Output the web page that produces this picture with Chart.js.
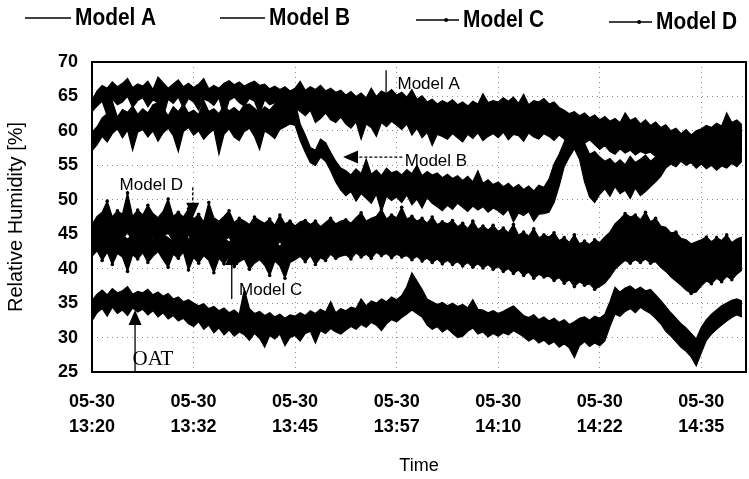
<!DOCTYPE html>
<html>
<head>
<meta charset="utf-8">
<script src="https://cdn.jsdelivr.net/npm/chart.js@4.4.1/dist/chart.umd.min.js"></script>
<style>
    html, body { margin: 0; padding: 0; background: #fff; }
</style>
</head>
<body>
<canvas id="rh-chart" width="749" height="479"></canvas>
<script>
/**
 * data: upper and lower edge of each trace,
 * one reading every 0.625 min starting at 13:20
 */
const sampleStep = 0.625;

const modelAHigh = [
    64.5, 65.8, 66.6, 66.2, 67.1, 66.4, 66.9, 67.6, 66.3, 66.8,
    66.5, 67.2, 66.0, 67.8, 67.0, 66.2, 66.8, 67.4, 66.4, 66.9,
    66.3, 66.8, 67.6, 66.1, 66.6, 66.2, 66.9, 67.3, 66.7, 67.1,
    66.5, 66.9, 67.2, 66.6, 66.8, 66.1, 66.5, 66.0, 66.4, 65.8,
    66.2, 67.2, 65.9, 66.4, 66.0, 66.6, 65.8, 66.2, 65.6, 65.9,
    65.2, 65.7, 65.0, 65.5, 64.8, 66.2, 65.0, 65.8, 65.4, 66.0,
    65.2, 65.6, 64.9, 66.0, 64.6, 65.1, 64.2, 64.6, 63.9, 64.4,
    64.0, 64.5, 63.8, 64.2, 63.6, 64.3, 63.9, 65.4, 64.1, 64.4,
    64.2, 64.8, 64.3, 64.9, 64.0, 65.3, 63.8, 64.4, 64.2, 64.7,
    63.9, 64.2, 63.4, 63.0, 62.5, 62.8, 62.2, 62.6, 61.9, 62.3,
    61.6, 62.1, 61.4, 61.8, 61.2, 62.6, 61.5, 61.9, 61.0, 61.6,
    60.8, 61.3, 60.5, 60.9, 60.0, 60.4, 59.6, 60.2, 59.4, 60.0,
    60.3, 60.8, 60.5, 61.1, 60.7, 62.6, 61.2, 61.6, 60.9
];
const modelALow = [
    62.8, 63.6, 64.3, 62.2, 64.6, 63.8, 64.2, 65.0, 63.4, 64.4,
    64.8, 63.5, 64.5, 64.1, 61.9, 64.6, 64.0, 64.9, 63.3, 64.7,
    64.2, 63.0, 64.6, 64.3, 63.7, 64.8, 62.0, 64.4, 64.9, 64.1,
    63.6, 64.7, 64.3, 62.4, 64.5, 63.8, 64.1, 63.0, 63.6, 63.2,
    63.4, 62.8, 62.2, 63.0, 61.2, 61.8, 62.6, 61.6, 61.2, 62.0,
    61.0, 60.4, 61.3, 58.8, 61.0, 60.5, 59.2, 61.2, 60.6, 61.4,
    60.8, 60.2, 61.0, 59.4, 60.4, 59.0, 59.8, 57.9, 59.5, 59.2,
    58.8, 59.6, 59.0, 58.4, 59.5, 58.9, 59.7, 58.6, 59.2, 59.6,
    59.0, 59.8, 58.7, 59.5, 59.3, 58.5, 59.7, 59.1, 58.8, 59.6,
    59.2, 58.6, 59.4, 58.8, 57.6, 59.0, 58.5, 58.2, 58.7, 58.0,
    57.3, 57.9, 57.0, 56.6, 57.4, 56.8, 57.2, 56.5, 57.0, 56.7,
    56.9, 56.3, 57.1, 56.6, 56.0, 56.8, 56.2, 56.9, 56.4, 56.0,
    56.6, 55.8, 56.9, 56.2, 55.6, 56.8, 56.1, 56.7, 57.4
];

const modelBHigh = [
    59.8, 60.6, 61.9, 62.5, 64.3, 62.0, 63.1, 62.7, 63.6, 62.4,
    63.2, 62.6, 63.8, 64.1, 63.3, 62.2, 63.5, 62.8, 63.9, 62.6,
    63.0, 62.4, 64.4, 62.8, 63.2, 62.5, 63.7, 62.9, 63.4, 62.7,
    63.8, 63.9, 63.3, 62.6, 63.5, 63.0, 63.9, 63.2, 64.0, 64.4,
    64.2, 61.0, 59.4, 57.6, 57.2, 58.8, 58.3, 56.9, 55.6, 54.6,
    54.2, 53.6, 54.5, 53.8, 55.9, 53.7, 54.3, 53.5, 54.6, 53.9,
    54.2, 53.6, 54.4, 53.8, 55.0, 53.5, 54.1, 53.6, 53.9, 53.2,
    53.7, 53.1, 53.5, 52.8, 53.4, 52.6, 54.2, 52.4, 52.9, 52.2,
    52.6, 51.9, 52.4, 51.7, 52.2, 51.5, 52.0, 51.3, 52.1, 51.8,
    53.0, 55.2, 56.6, 58.4, 59.6, 61.4, 62.1, 58.2, 56.6, 57.0,
    56.2, 55.6, 56.0, 55.2, 55.8, 55.1, 56.3, 55.4, 55.9, 56.5,
    55.6, 56.2, 57.0, 57.8, 58.6, 59.2, 59.0, 59.6, 59.3, 59.8,
    59.5, 60.1, 59.6, 59.9, 59.3, 60.2, 59.8, 60.4, 59.9
];
const modelBLow = [
    57.1, 58.0, 59.2, 58.4, 59.6, 60.3, 59.0, 60.1, 57.2, 59.8,
    60.2, 59.1, 60.0, 58.5, 59.7, 60.4, 59.3, 57.0, 59.9, 60.5,
    59.4, 60.0, 58.8, 59.6, 60.2, 56.6, 59.5, 60.3, 59.1, 58.6,
    59.9, 60.4, 59.2, 57.3, 60.0, 59.5, 58.9, 60.2, 60.6, 61.0,
    60.8, 58.6, 56.9, 55.4, 55.0, 56.2, 55.6, 54.2, 52.6, 51.4,
    50.6, 51.2, 49.8, 50.9, 50.2, 49.5, 50.8, 48.3, 50.5, 49.9,
    50.4, 49.6, 50.7, 49.3, 50.1, 48.8, 50.3, 49.5, 49.0, 48.4,
    49.2, 48.6, 49.5, 48.9, 48.3, 49.1, 48.5, 49.0, 48.2, 48.8,
    48.4, 47.8, 48.6, 46.8, 48.1, 47.7, 48.3, 46.9, 47.9, 48.0,
    48.2, 49.6, 52.0, 54.8, 56.2, 57.4, 55.9, 52.6, 50.4, 49.6,
    50.8, 51.6, 50.5, 51.9, 50.9, 51.4, 50.2, 51.7, 50.6, 51.2,
    51.9, 52.6, 53.4, 54.6, 55.2, 54.8, 55.6, 55.0, 55.4, 54.6,
    55.2, 54.5, 55.0, 54.3, 54.9, 54.6, 55.3, 54.8, 55.6
];

const modelCHigh = [
    45.4, 45.0, 44.6, 45.2, 44.4, 45.0, 44.8, 44.3, 44.9, 45.3,
    44.6, 45.1, 44.2, 44.8, 45.0, 44.5, 43.9, 44.7, 45.0, 44.4,
    44.1, 44.6, 43.8, 44.4, 44.0, 43.6, 44.3, 43.9, 44.2, 43.7,
    44.0, 43.5, 44.1, 43.8, 43.4, 44.0, 43.6, 43.3, 43.9, 44.2,
    44.4, 44.9, 44.5, 45.0, 44.6, 45.1, 44.7, 45.2, 44.8, 45.0,
    45.1, 45.4, 44.9, 45.3, 45.0, 45.6, 45.2, 45.4, 45.0, 45.5,
    45.2, 45.0, 44.8, 45.1, 44.6, 44.9, 44.5, 44.7, 44.3, 44.6,
    44.2, 44.5, 44.0, 44.3, 43.8, 44.1, 43.7, 43.9, 43.5, 43.8,
    43.4, 43.6, 43.1, 43.4, 42.9, 43.2, 42.6, 42.9, 42.3, 42.6,
    42.1, 42.4, 41.9, 42.2, 41.6, 41.9, 41.3, 41.6, 41.1, 41.4,
    41.2, 41.8, 42.6, 43.4, 44.0, 44.5, 44.2, 44.6, 44.3, 44.7,
    44.1, 44.4, 43.6, 43.2, 42.5, 42.0, 41.4, 41.0, 40.6, 40.9,
    41.2, 41.6, 41.4, 41.9, 41.6, 42.1, 41.8, 42.3, 42.6
];
const modelCLow = [
    41.8, 42.6, 41.2, 42.4, 40.6, 42.2, 41.7, 39.6, 42.0, 41.4,
    42.3, 40.9, 41.8, 42.5, 41.3, 40.2, 42.1, 41.5, 42.4, 39.8,
    41.6, 40.8, 41.9, 41.2, 39.4, 41.5, 40.7, 41.8, 40.3, 41.0,
    41.4, 39.9, 40.8, 41.3, 40.5, 39.0, 41.1, 40.4, 38.6, 40.9,
    41.3, 41.8, 41.0, 41.9, 40.6, 41.6, 41.2, 42.1, 41.5, 41.8,
    42.0, 41.4, 42.3, 41.7, 42.1, 41.5, 42.4, 41.9, 42.2, 41.6,
    42.1, 41.7, 41.9, 41.3, 41.8, 41.1, 41.5, 40.9, 41.4, 40.7,
    41.2, 40.6, 41.0, 40.4, 40.9, 40.2, 40.7, 40.1, 40.6, 39.9,
    40.3, 39.6, 40.0, 39.3, 39.8, 39.0, 39.5, 38.6, 39.2, 38.8,
    38.9, 38.3, 38.7, 37.9, 38.4, 37.4, 38.1, 37.6, 37.8, 37.0,
    37.4, 37.9, 38.8, 39.9, 40.6, 41.2, 40.8, 41.3, 40.9, 41.4,
    40.8, 41.0, 40.2, 39.6, 38.8, 38.2, 37.6, 36.9, 36.4, 36.6,
    37.5, 38.2, 37.8, 38.6, 38.1, 38.9, 38.4, 39.2, 39.8
];

const modelDHigh = [
    46.4, 47.6, 48.2, 49.8, 47.5, 48.4, 47.9, 51.0, 47.6, 48.5,
    47.8, 49.2, 48.0, 47.4, 48.3, 50.1, 47.6, 48.2, 47.5, 48.7,
    47.2, 47.9, 46.8, 49.6, 47.4, 46.9, 47.6, 48.4, 46.7, 47.3,
    46.9, 46.4, 47.5, 47.0, 46.6, 47.2, 46.3, 47.8, 46.5, 46.9,
    46.2, 46.8, 47.0, 46.4, 46.9, 46.1, 46.7, 47.3, 46.5, 46.9,
    47.1, 46.6, 47.4, 48.1, 46.9, 47.3, 47.6, 48.6, 47.2, 47.8,
    47.4, 48.9, 47.2, 47.6, 46.9, 47.3, 46.6, 47.5, 46.4, 46.8,
    46.5, 47.0, 46.1, 46.6, 45.8, 46.9, 45.7, 46.2, 45.6, 46.3,
    45.4, 45.9, 45.2, 46.4, 44.9, 45.3, 44.7, 45.8, 44.5, 44.9,
    44.6, 45.2, 44.1, 44.5, 43.8, 44.9, 43.6, 44.0, 43.5, 44.2,
    43.8, 44.6, 45.3, 46.5, 47.2, 48.0, 47.5, 47.8, 47.1, 48.2,
    46.8, 47.3, 46.2, 46.0, 45.2, 45.3, 44.4, 44.2, 43.6, 43.9,
    44.2, 44.6, 43.9, 44.5, 44.1, 44.9, 43.8, 44.3, 44.6
];
const modelDLow = [
    43.0, 44.1, 44.6, 45.0, 43.8, 44.5, 44.2, 45.3, 43.9, 44.8,
    44.3, 45.0, 44.4, 43.8, 44.7, 45.2, 43.9, 44.6, 43.7, 44.9,
    43.6, 44.2, 43.1, 44.8, 43.7, 43.2, 44.0, 44.6, 43.0, 43.5,
    43.3, 42.8, 43.9, 43.4, 42.9, 43.5, 42.7, 44.0, 42.8, 43.2,
    42.7, 43.2, 43.5, 42.9, 43.3, 42.6, 43.1, 43.8, 42.9, 43.4,
    43.6, 43.0, 43.9, 44.3, 43.4, 43.8, 44.0, 44.6, 43.7, 44.2,
    43.9, 44.6, 43.7, 44.1, 43.4, 43.8, 43.1, 44.0, 42.9, 43.3,
    43.0, 43.5, 42.6, 43.1, 42.3, 43.2, 42.2, 42.7, 42.1, 42.8,
    41.9, 42.4, 41.7, 42.6, 41.4, 41.8, 41.2, 42.1, 41.0, 41.4,
    41.1, 41.6, 40.6, 41.0, 40.3, 41.2, 40.1, 40.5, 40.0, 40.6,
    40.3, 40.9, 41.8, 42.8, 43.6, 44.3, 43.9, 44.2, 43.5, 44.4,
    43.2, 43.6, 42.7, 42.4, 41.6, 41.5, 40.9, 40.6, 40.1, 40.3,
    40.6, 41.0, 40.4, 40.9, 40.6, 41.2, 40.3, 40.8, 41.1
];

const oatHigh = [
    35.4, 36.3, 36.9, 36.2, 37.1, 36.5, 36.8, 37.4, 36.3, 36.7,
    36.5, 37.0, 36.2, 36.6, 36.0, 36.4, 35.6, 35.9, 35.2, 35.5,
    35.0, 34.6, 34.9, 34.2, 34.5, 33.9, 34.3, 33.6, 34.0, 33.4,
    37.0, 34.2, 33.5, 33.8, 33.2, 33.6, 33.0, 33.4, 32.8, 33.3,
    33.1, 33.6, 33.2, 33.9, 33.5, 34.1, 33.7, 35.2, 33.6, 34.2,
    33.9, 34.4, 34.2, 35.6, 34.6, 35.3, 35.0, 35.6, 35.2, 35.9,
    35.5, 36.1, 37.4, 39.4, 38.2, 37.0, 35.6, 35.2, 34.8, 35.1,
    34.6, 35.0, 34.5, 34.8, 34.3, 35.5, 34.1, 34.0, 33.6, 33.9,
    33.5, 33.8, 34.2, 34.6, 33.9, 33.2, 32.9, 33.3, 32.6, 33.0,
    32.4, 32.8, 32.2, 32.6, 31.9, 32.3, 32.8, 33.0, 32.5, 33.1,
    32.8, 33.4, 35.2, 37.3, 36.6, 37.2, 37.5, 36.9, 37.3, 36.8,
    37.0, 36.2, 35.4, 34.5, 33.6, 32.8, 32.0, 31.4, 30.6, 29.8,
    31.5, 32.6, 33.4, 34.0, 34.6, 35.0, 35.4, 35.6, 35.3
];
const oatLow = [
    32.4, 33.6, 34.2, 33.1, 34.4, 33.5, 34.0, 33.2, 34.3, 33.7,
    34.1, 33.3, 33.9, 33.0, 33.6, 32.7, 33.2, 32.4, 32.8, 32.0,
    31.6, 32.3, 31.2, 31.8, 30.7, 31.4, 30.4, 31.1, 30.2, 30.8,
    30.4, 29.6, 30.6, 29.9, 28.6, 30.3, 29.8, 30.5, 28.8, 30.0,
    30.3, 29.5, 30.6, 30.9, 29.2, 31.0, 30.6, 31.3, 30.8, 30.5,
    31.1, 31.6, 31.2, 31.9, 31.5, 32.2, 31.8, 31.0, 32.0, 32.6,
    32.3, 32.9, 33.4, 34.0, 33.5, 33.0, 31.8, 31.2, 31.6, 30.8,
    31.3, 30.6, 30.0, 30.2, 30.9, 31.4, 30.5, 30.8, 30.1, 30.6,
    30.2, 30.7, 30.4, 31.0, 30.6, 30.1, 29.5, 29.9, 29.2, 29.6,
    29.0, 29.4, 28.6, 29.1, 28.5, 27.1, 28.8, 29.4, 28.7, 29.2,
    28.8, 29.5, 31.6, 33.4, 33.1, 33.8, 34.2, 33.6, 34.4, 33.9,
    33.5, 32.8, 32.0, 30.9, 30.2, 29.4, 28.6, 28.0, 27.2, 25.9,
    27.8, 29.6, 30.5, 31.2, 31.8, 32.4, 32.9, 33.3, 33.0
];

// x axis tick labels (minutes after 13:20)
const tickMinutes = [0, 12.5, 25, 37.5, 50, 62.5, 75];
const tickDates = ["05-30", "05-30", "05-30", "05-30", "05-30", "05-30", "05-30"];
const tickTimes = ["13:20", "13:32", "13:45", "13:57", "14:10", "14:22", "14:35"];

// arrow labels inside the plot (data coordinates)
const notes = [
    { text: "Model A", tx: 37.6, ty: 66.8, from: [36.2, 68.8], to: [36.2, 63.4], dashed: false, serif: false },
    { text: "Model B", tx: 38.5, ty: 55.6, from: [38.2, 56.2], to: [30.9, 56.2], dashed: true, serif: false },
    { text: "Model D", tx: 3.4, ty: 52.1, from: [12.4, 51.8], to: [12.4, 47.4], dashed: true, serif: false },
    { text: "Model C", tx: 18.1, ty: 36.8, from: [17.2, 35.6], to: [17.2, 42.7], dashed: false, serif: false },
    { text: "OAT", tx: 5.0, ty: 26.8, from: [5.3, 25], to: [5.3, 34.0], dashed: false, serif: true }
];

// legend spots along the top (pixels)
const legendSpots = [
    { x0: 25, x1: 71, y: 18 },
    { x0: 220, x1: 265, y: 18 },
    { x0: 416, x1: 459, y: 20 },
    { x0: 609, x1: 652, y: 22 }
];

function toPoints(values) {
    return values.map((v, i) => ({ x: i * sampleStep, y: v }));
}

// small dots on local peaks (or dips) of a trace edge
function peakDots(dips) {
    return ctx => {
        const d = ctx.dataset.data;
        const i = ctx.dataIndex;
        if (i === 0 || i === d.length - 1) return 0;
        const v = d[i].y;
        const isPeak = dips ? (v < d[i - 1].y && v < d[i + 1].y) : (v > d[i - 1].y && v > d[i + 1].y);
        return isPeak ? 1.8 : 0;
    };
}

// draw an arrow with a filled head at (x2, y2)
function drawArrow(ctx, x1, y1, x2, y2, dashed) {
    const angle = Math.atan2(y2 - y1, x2 - x1);
    const headLen = 15;
    const headHalf = 6.5;
    const bx = x2 - headLen * Math.cos(angle);
    const by = y2 - headLen * Math.sin(angle);

    ctx.save();
    ctx.strokeStyle = "#000";
    ctx.lineWidth = 1.3;
    ctx.setLineDash(dashed ? [3, 2] : []);
    ctx.beginPath();
    ctx.moveTo(x1, y1);
    ctx.lineTo(bx, by);
    ctx.stroke();
    ctx.setLineDash([]);

    ctx.fillStyle = "#000";
    ctx.beginPath();
    ctx.moveTo(x2, y2);
    ctx.lineTo(bx + headHalf * Math.sin(angle), by - headHalf * Math.cos(angle));
    ctx.lineTo(bx - headHalf * Math.sin(angle), by + headHalf * Math.cos(angle));
    ctx.closePath();
    ctx.fill();
    ctx.restore();
}

// frame, arrow notes and the legend
const figurePlugin = {
    id: "figureExtras",
    afterDraw(chart) {
        const { ctx, chartArea, scales } = chart;
        const xs = scales.x;
        const ys = scales.y;

        ctx.save();
        ctx.strokeStyle = "#000";
        ctx.lineWidth = 2;
        ctx.strokeRect(chartArea.left, chartArea.top, chartArea.right - chartArea.left, chartArea.bottom - chartArea.top);

        notes.forEach(n => {
            drawArrow(ctx,
                xs.getPixelForValue(n.from[0]), ys.getPixelForValue(n.from[1]),
                xs.getPixelForValue(n.to[0]), ys.getPixelForValue(n.to[1]),
                n.dashed);
            ctx.fillStyle = "#000";
            ctx.textAlign = "left";
            ctx.textBaseline = "middle";
            ctx.font = n.serif ? "21px 'Liberation Serif'" : "17px 'Liberation Sans'";
            ctx.fillText(n.text, xs.getPixelForValue(n.tx), ys.getPixelForValue(n.ty));
        });

        chart.data.datasets.filter(ds => ds.inLegend).forEach((ds, i) => {
            const spot = legendSpots[i];
            ctx.strokeStyle = "#000";
            ctx.lineWidth = 1.4;
            ctx.beginPath();
            ctx.moveTo(spot.x0, spot.y);
            ctx.lineTo(spot.x1, spot.y);
            ctx.stroke();
            if (ds.marker) {
                ctx.fillStyle = "#000";
                ctx.beginPath();
                ctx.arc(spot.x0 + (spot.x1 - spot.x0) * 0.7, spot.y, 2, 0, Math.PI * 2);
                ctx.fill();
            }
            ctx.save();
            ctx.translate(spot.x1 + 4, spot.y);
            ctx.scale(0.87, 1);
            ctx.fillStyle = "#000";
            ctx.textAlign = "left";
            ctx.textBaseline = "middle";
            ctx.font = "bold 24px 'Liberation Sans'";
            ctx.fillText(ds.label, 0, 0);
            ctx.restore();
        });
        ctx.restore();
    }
};

// each trace: lower edge line + upper edge line filled down to it
function makeTrace(label, high, low, marker) {
    const lowerEdge = {
        label: label + " (low)",
        data: toPoints(low),
        borderColor: "#000",
        borderWidth: 1.2,
        pointRadius: marker ? peakDots(true) : 0,
        pointBackgroundColor: "#000",
        pointBorderWidth: 0,
        fill: false,
        tension: 0
    };
    const upperEdge = {
        label: label,
        data: toPoints(high),
        borderColor: "#000",
        backgroundColor: "#000",
        borderWidth: 1.2,
        pointRadius: marker ? peakDots(false) : 0,
        pointBackgroundColor: "#000",
        pointBorderWidth: 0,
        fill: "-1",
        tension: 0,
        inLegend: label !== "OAT",
        marker: marker
    };
    return [lowerEdge, upperEdge];
}

function initHumidityChart() {
    const ctx = document.getElementById("rh-chart").getContext("2d");

    new Chart(ctx, {
        type: "line",
        data: {
            datasets: [
                ...makeTrace("Model A", modelAHigh, modelALow, false),
                ...makeTrace("Model B", modelBHigh, modelBLow, false),
                ...makeTrace("Model C", modelCHigh, modelCLow, true),
                ...makeTrace("Model D", modelDHigh, modelDLow, true),
                ...makeTrace("OAT", oatHigh, oatLow, false)
            ]
        },
        options: {
            responsive: false,
            animation: false,
            events: [],
            layout: { padding: { top: 62, right: 3, left: 4, bottom: 2 } },
            plugins: {
                legend: { display: false },
                tooltip: { enabled: false },
                filler: { propagate: false }
            },
            scales: {
                x: {
                    type: "linear",
                    min: 0,
                    max: 80.5,
                    afterBuildTicks: axis => {
                        axis.ticks = tickMinutes.map(v => ({ value: v }));
                    },
                    afterFit: axis => {
                        axis.height = 105;
                        axis.paddingLeft = 0;
                        axis.paddingRight = 0;
                    },
                    ticks: {
                        callback: (value, index) => [tickDates[index], tickTimes[index]],
                        color: "#000",
                        font: { family: "'Liberation Sans'", size: 18, weight: "bold", lineHeight: 1.42 },
                        padding: 17,
                        maxRotation: 0,
                        autoSkip: false
                    },
                    grid: { color: "#8c8c8c", drawTicks: false },
                    border: { display: false, dash: [1, 4] },
                    title: {
                        display: true,
                        text: "Time",
                        color: "#000",
                        font: { family: "'Liberation Sans'", size: 18 },
                        padding: { top: 8, bottom: 0 }
                    }
                },
                y: {
                    min: 25,
                    max: 70,
                    afterFit: axis => { axis.width = 88; },
                    ticks: {
                        stepSize: 5,
                        color: "#000",
                        font: { family: "'Liberation Sans'", size: 18, weight: "bold" },
                        padding: 14
                    },
                    grid: { color: "#8c8c8c", drawTicks: false },
                    border: { display: false, dash: [1, 4] },
                    title: {
                        display: true,
                        text: "Relative Humidity [%]",
                        color: "#000",
                        font: { family: "'Liberation Sans'", size: 20 },
                        padding: { top: 0, bottom: 0 }
                    }
                }
            }
        },
        plugins: [figurePlugin]
    });
}

initHumidityChart();
</script>
</body>
</html>
